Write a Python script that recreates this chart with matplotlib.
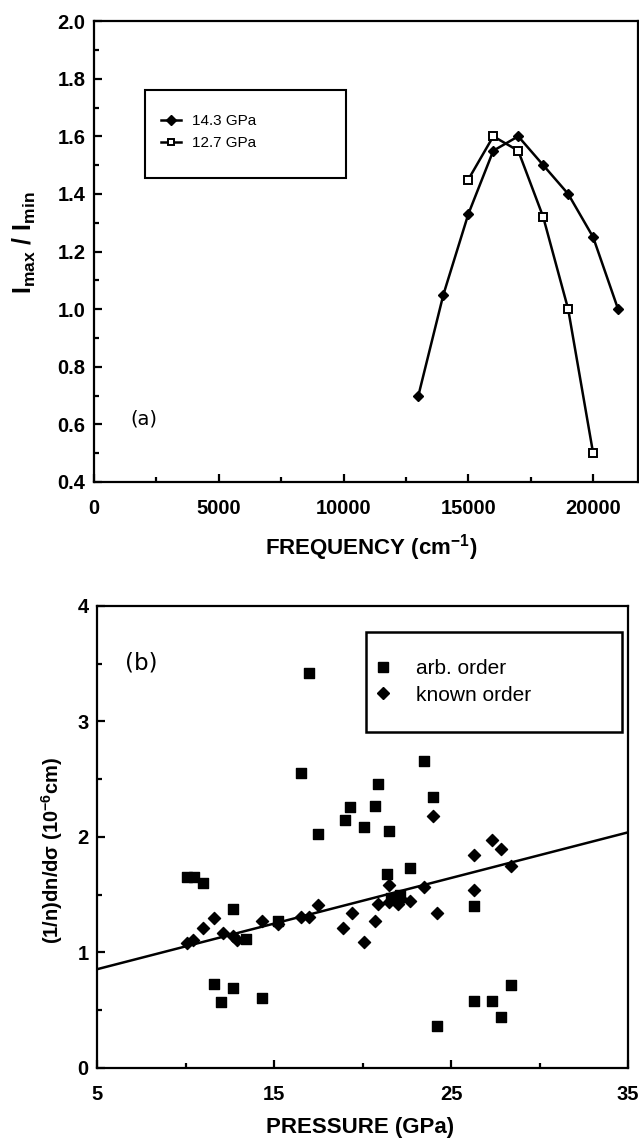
import matplotlib
matplotlib.use("Agg")
import matplotlib.pyplot as plt
from matplotlib.patches import Rectangle
from matplotlib.lines import Line2D

plt.rcParams['font.family'] = ['Liberation Sans', 'DejaVu Sans']
plt.rcParams['mathtext.fontset'] = 'custom'
plt.rcParams['mathtext.rm'] = 'Liberation Sans:bold'
plt.rcParams['mathtext.bf'] = 'Liberation Sans:bold'
plt.rcParams['mathtext.it'] = 'Liberation Sans:bold'
plt.rcParams['mathtext.default'] = 'bf'

# panel (a): contrast ratio vs frequency
freq_143 = [13000, 14000, 15000, 16000, 17000, 18000, 19000, 20000, 21000]
ratio_143 = [0.70, 1.05, 1.33, 1.55, 1.60, 1.50, 1.40, 1.25, 1.00]
freq_127 = [15000, 16000, 17000, 18000, 19000, 20000]
ratio_127 = [1.45, 1.60, 1.55, 1.32, 1.00, 0.50]
labels_a = ['14.3 GPa', '12.7 GPa']

# panel (b): dispersion vs pressure
arb_p = [10.1, 10.5, 11.0, 12.7, 13.4, 15.2, 21.4, 22.7, 26.3, 11.6, 12.0, 12.7,
         14.3, 24.2, 26.3, 27.3, 27.8, 28.4, 17.0, 16.5, 17.5, 19.0, 19.3, 20.1,
         20.7, 20.9, 21.5, 23.5, 24.0, 21.6, 22.1]
arb_v = [1.65, 1.65, 1.60, 1.38, 1.12, 1.27, 1.68, 1.73, 1.40, 0.73, 0.57, 0.69,
         0.61, 0.36, 0.58, 0.58, 0.44, 0.72, 3.42, 2.55, 2.03, 2.15, 2.26, 2.09,
         2.27, 2.46, 2.05, 2.66, 2.35, 1.47, 1.50]
known_p = [10.1, 10.4, 11.0, 11.6, 12.1, 12.7, 12.9, 14.3, 15.2, 16.5, 17.0, 17.5,
           18.9, 19.4, 20.1, 20.7, 20.9, 21.5, 21.5, 21.8, 22.0, 22.2, 22.7, 23.5,
           24.2, 26.3, 26.3, 28.4, 24.0, 27.3, 27.8]
known_v = [1.08, 1.11, 1.21, 1.30, 1.17, 1.14, 1.11, 1.27, 1.25, 1.31, 1.31, 1.41,
           1.21, 1.34, 1.09, 1.27, 1.42, 1.58, 1.44, 1.47, 1.42, 1.46, 1.45, 1.57,
           1.34, 1.54, 1.84, 1.75, 2.18, 1.97, 1.90]
fit_p = [5, 35]
fit_v = [0.855, 2.04]
labels_b = ['arb. order', 'known order']

fig = plt.figure(figsize=(6.39, 11.42), dpi=100)
ax1 = fig.add_axes([0.147, 0.578, 0.8515, 0.4035])
ax2 = fig.add_axes([0.1518, 0.0648, 0.831, 0.4046])

# ---- panel (a)
ax1.plot(freq_143, ratio_143, color='black', lw=1.8, marker='D', ms=5.5,
         mfc='black', mec='black', zorder=3)
ax1.plot(freq_127, ratio_127, color='black', lw=1.8, marker='s', ms=5.5,
         mfc='white', mec='black', mew=1.4, zorder=4)
ax1.set_xlim(0, 21800)
ax1.set_ylim(0.4, 2.0)
ax1.set_xticks([0, 5000, 10000, 15000, 20000])
ax1.set_xticks([2500, 7500, 12500, 17500], minor=True)
ax1.set_yticks([0.4, 0.6, 0.8, 1.0, 1.2, 1.4, 1.6, 1.8, 2.0])
ax1.set_yticks([0.5, 0.7, 0.9, 1.1, 1.3, 1.5, 1.7, 1.9], minor=True)
ax1.set_yticklabels(['0.4', '0.6', '0.8', '1.0', '1.2', '1.4', '1.6', '1.8', '2.0'])

ax1.add_patch(Rectangle((0.094, 0.659), 0.369, 0.191, transform=ax1.transAxes,
                        fill=False, lw=1.5, ec='black', zorder=5))
h1 = [Line2D([], [], color='black', lw=1.8, marker='D', ms=5, mfc='black'),
      Line2D([], [], color='black', lw=1.8, marker='s', ms=5, mfc='white', mew=1.4)]
ax1.legend(h1, labels_a, loc='upper left', bbox_to_anchor=(0.11, 0.815),
           frameon=False, fontsize=11, handlelength=1.3, handletextpad=0.7,
           labelspacing=0.55, borderpad=0)
ax1.text(1450, 0.62, '(a)', fontsize=14, family='DejaVu Sans', va='center', ha='left')

ax1.set_xlabel('FREQUENCY (cm$^{-1}$)', fontsize=16, fontweight='bold')
ax1.xaxis.set_label_coords(0.509, -0.143)
ax1.xaxis.label.set_va('center')
ax1.set_ylabel(r'I$_{max}$ / I$_{min}$', fontsize=18, fontweight='bold')
ax1.yaxis.set_label_coords(-0.127, 0.52)
ax1.yaxis.label.set_va('center')

# ---- panel (b)
ax2.plot(fit_p, fit_v, color='black', lw=1.8, zorder=2)
ax2.scatter(arb_p, arb_v, marker='s', s=55, color='black', zorder=3)
ax2.scatter(known_p, known_v, marker='D', s=38, color='black', zorder=3)
ax2.set_xlim(5, 35)
ax2.set_ylim(0, 4)
ax2.set_xticks([5, 15, 25, 35])
ax2.set_xticks([10, 20, 30], minor=True)
ax2.set_yticks([0, 1, 2, 3, 4])
ax2.set_yticks([0.5, 1.5, 2.5, 3.5], minor=True)

ax2.add_patch(Rectangle((0.507, 0.727), 0.482, 0.217, transform=ax2.transAxes,
                        fill=False, lw=1.8, ec='black', zorder=5))
h2 = [Line2D([], [], ls='none', marker='s', ms=7, color='black'),
      Line2D([], [], ls='none', marker='D', ms=6, color='black')]
ax2.legend(h2, labels_b, loc='upper left', bbox_to_anchor=(0.503, 0.907),
           frameon=False, fontsize=15, handlelength=0.8, handletextpad=1.2,
           labelspacing=0.35, borderpad=0)
ax2.text(6.6, 3.51, '(b)', fontsize=16.5, family='DejaVu Sans', va='center', ha='left')

ax2.set_xlabel('PRESSURE (GPa)', fontsize=16, fontweight='bold')
ax2.xaxis.set_label_coords(0.495, -0.128)
ax2.xaxis.label.set_va('center')
ax2.set_ylabel(r'(1/n)dn/d$\sigma$ (10$^{-6}$cm)', fontsize=14.5, fontweight='bold')
ax2.yaxis.set_label_coords(-0.085, 0.47)
ax2.yaxis.label.set_va('center')

for ax in (ax1, ax2):
    for s in ax.spines.values():
        s.set_linewidth(1.6)
    ax.tick_params(axis='both', which='major', direction='in', length=6, width=1.6,
                   labelsize=14.5, top=False, right=False)
    ax.tick_params(axis='both', which='minor', direction='in', length=3.5, width=1.6,
                   top=False, right=False)
    ax.tick_params(axis='x', which='major', pad=12)
    ax.tick_params(axis='y', which='major', pad=6)
    for lab in ax.get_xticklabels() + ax.get_yticklabels():
        lab.set_fontweight('bold')

fig.savefig('out.png', dpi=100)
